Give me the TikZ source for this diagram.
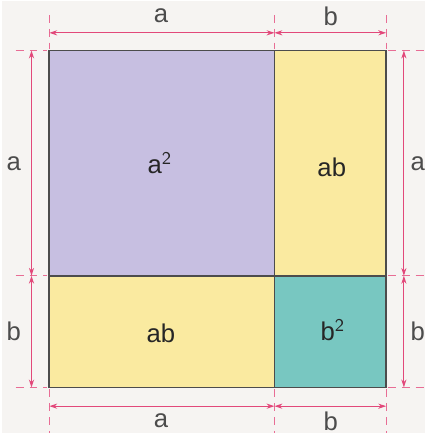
\documentclass[tikz,border=0pt]{standalone}
\usepackage{fontspec}
\setmainfont{Liberation Sans}
\usetikzlibrary{positioning,arrows.meta}
\definecolor{rosa}{RGB}{226,72,122}
\definecolor{lila}{RGB}{199,191,225}
\definecolor{amarelo}{RGB}{250,234,160}
\definecolor{verde}{RGB}{120,199,193}
\definecolor{fundo}{RGB}{246,244,242}
\tikzset{cota/.style={rosa,line width=0.5pt,{Stealth[length=4pt,width=2.6pt]}-{Stealth[length=4pt,width=2.6pt]}},
  guia/.style={rosa!80,line width=0.5pt,dash pattern=on 4pt off 3pt},
  rotulo/.style={font=\fontsize{13}{15}\selectfont,text=black!70},
  area/.style={font=\fontsize{13}{15}\selectfont,text=black!85},
  peca/.style={draw=black!70,line width=0.8pt}}
\begin{document}
\begin{tikzpicture}[x=0.5pt,y=-0.5pt] % 1 unidade = 1 pixel da figura
    \fill[fundo] (0,0) rectangle (428,437);
    % cantos do quadrado
    \coordinate (NO) at (48,50);  \coordinate (NM) at (276,50);  \coordinate (NE) at (389,50);
    \coordinate (MO) at (48,278); \coordinate (C) at (276,278);  \coordinate (ME) at (389,278);
    \coordinate (SO) at (48,391); \coordinate (SM) at (276,391); \coordinate (SE) at (389,391);
    % as quatro pecas
    \fill[lila] (NO) rectangle (C);
    \fill[amarelo] (NM) rectangle (ME);
    \fill[amarelo] (MO) rectangle (SM);
    \fill[verde] (C) rectangle (SE);
    \draw[peca] (NO) rectangle (SE);
    \draw[peca] (NM) -- (SM);
    \draw[peca] (MO) -- (ME);
    \node[area] (qa) at (160,164) {a$^{\mathsf{2}}$};
    \node[area] (ab1) at (334,168) {ab};
    \node[area] (ab2) at (161,336) {ab};
    \node[area] (qb) at (335,333) {b$^{\mathsf{2}}$};
    % linhas de chamada
    \foreach \x in {48,276,389} {
        \draw[guia] (\x,14) -- (\x,48);
        \draw[guia] (\x,393) -- (\x,437);
    }
    \foreach \y in {50,278,391} {
        \draw[guia] (14,\y) -- (46,\y);
        \draw[guia] (391,\y) -- (428,\y);
    }
    % cotas
    \coordinate (t1) at (48,32);  \coordinate (t2) at (276,32);  \coordinate (t3) at (389,32);
    \coordinate (b1) at (48,410); \coordinate (b2) at (276,410); \coordinate (b3) at (389,410);
    \coordinate (l1) at (30,50);  \coordinate (l2) at (30,278);  \coordinate (l3) at (30,391);
    \coordinate (r1) at (407,50); \coordinate (r2) at (407,278); \coordinate (r3) at (407,391);
    \draw[cota] (t1) -- (t2); \draw[cota] (t2) -- (t3);
    \draw[cota] (b1) -- (b2); \draw[cota] (b2) -- (b3);
    \draw[cota] (l1) -- (l2); \draw[cota] (l2) -- (l3);
    \draw[cota] (r1) -- (r2); \draw[cota] (r2) -- (r3);
    \node[rotulo] (ta) at (161,15) {a};
    \node[rotulo] (tb) at (333,15) {b};
    \node[rotulo] (ba) at (161,425) {a};
    \node[rotulo] (bb) at (333,425) {b};
    \node[rotulo] (la) at (12,165) {a};
    \node[rotulo] (lb) at (12,334) {b};
    \node[rotulo] (ra) at (421,165) {a};
    \node[rotulo] (rb) at (421,334) {b};
\end{tikzpicture}
\end{document}
